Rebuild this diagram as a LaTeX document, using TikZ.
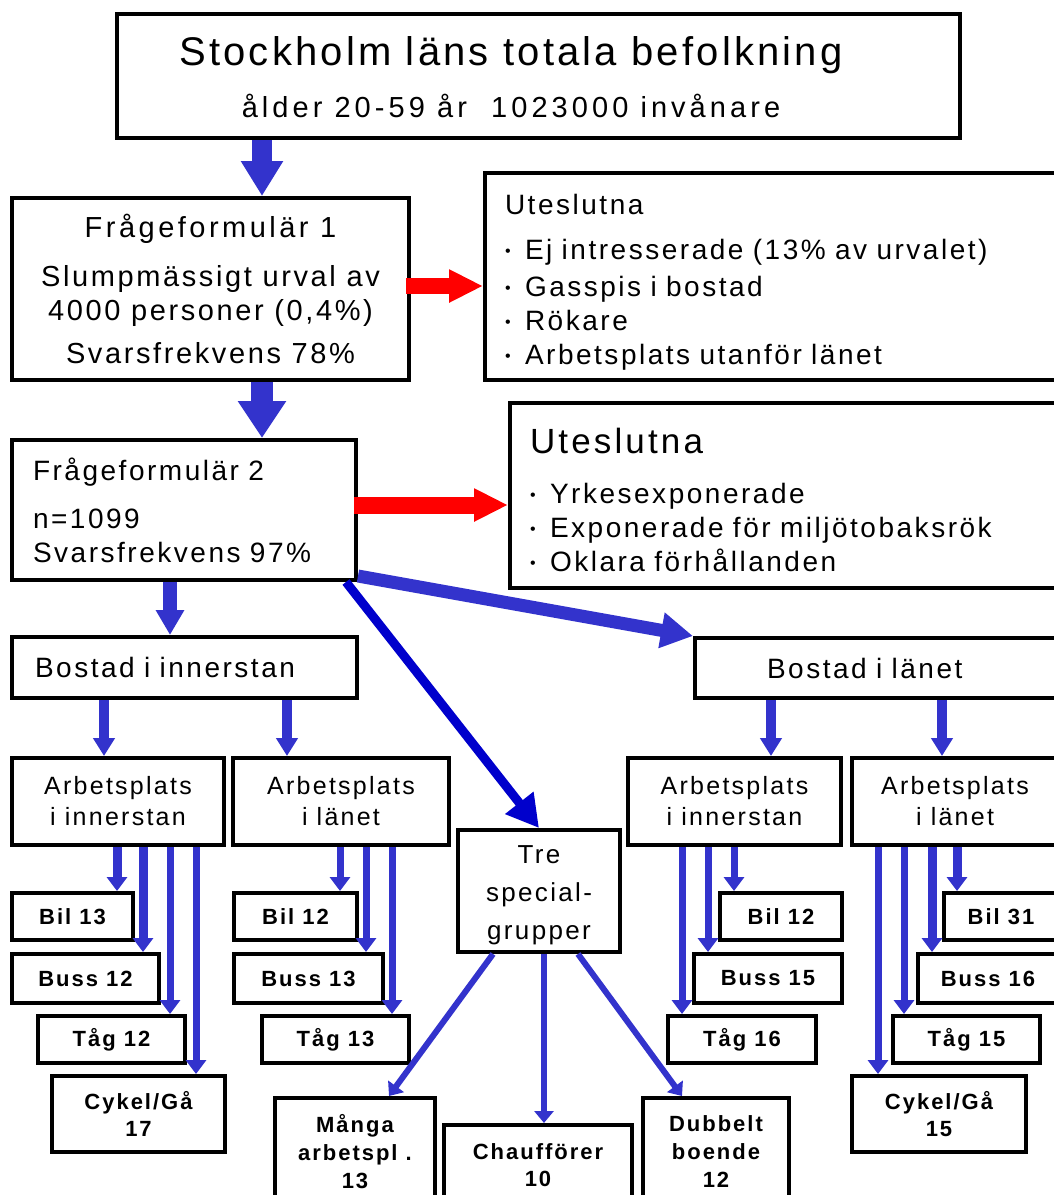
\documentclass[tikz,border=0pt]{standalone}
\usepackage{fontspec}
\setmainfont{Liberation Sans}[LetterSpace=9]
\usepackage{xcolor}
\usetikzlibrary{arrows.meta}
\definecolor{arrblue}{RGB}{51,51,204}
\definecolor{deepblue}{RGB}{0,0,204}
\definecolor{exred}{RGB}{255,0,0}
\tikzstyle{box} = [rectangle, sharp corners, draw, line width=2pt, inner sep=0pt, align=center]
\tikzstyle{leftbox} = [rectangle, sharp corners, draw, line width=2pt, inner ysep=0pt, align=left]
\tikzstyle{work} = [box, minimum height=43.5pt, font=\fontsize{12.5}{15.5}\selectfont]
\tikzstyle{mode} = [box, font=\fontsize{11}{13.5}\selectfont\bfseries]
\tikzstyle{flow} = [arrblue, line width=10pt, -{Triangle[length=17.5pt,width=20pt]}]
\tikzstyle{split} = [arrblue, line width=5pt, -{Triangle[length=9pt,width=10.5pt]}]
\tikzstyle{pick} = [arrblue, line width=3.5pt, -{Triangle[length=7pt,width=10pt]}]
\tikzstyle{drop} = [exred, line width=8pt, -{Triangle[length=17pt,width=15.5pt]}]
\tikzstyle{spec} = [arrblue, line width=3pt, -{Triangle[length=6pt,width=9.5pt]}]
\newcommand{\bul}{\makebox[10pt][l]{\raisebox{1.5pt}{\fontsize{8}{8}\selectfont •}}}

\begin{document}
\begin{tikzpicture}[x=0.5pt, y=-0.5pt]
\useasboundingbox (0,0) rectangle (1054,1195);
\clip (0,0) rectangle (1054,1195);

%Population
\node[box, minimum width=421.5pt, minimum height=62pt] at (538.5,76) (pop){};
\node[align=center, font=\fontsize{14.5}{26}\selectfont] at (511,77) (poptext)
  {{\fontsize{20}{26}\selectfont\addfontfeatures{LetterSpace=8}Stockholm läns totala befolkning}\\
   {\addfontfeatures{LetterSpace=14}ålder 20-59 år~~1023000 invånare}};

%Questionnaires
\node[box, minimum width=198.5pt, minimum height=91pt, font=\fontsize{14.5}{17}\selectfont] at (210.5,289) (form1)
  {{\addfontfeatures{LetterSpace=12}Frågeformulär 1}\\[7.5pt] Slumpmässigt urval av\\ 4000 personer (0,4\%)\\[4.5pt] Svarsfrekvens 78\%};
\node[leftbox, inner xsep=10.5pt, text width=151pt, minimum height=70pt, font=\fontsize{14}{17}\selectfont] at (184,510) (form2)
  {\rule{0pt}{12pt}Frågeformulär 2\\[7pt] n=1099\\ Svarsfrekvens 97\%};

%Excluded
\node[leftbox, inner xsep=10pt, text width=272.5pt, minimum height=103.5pt, font=\fontsize{14}{17}\selectfont] at (777.5,276.5) (excl1)
  {\rule{0pt}{16pt}Uteslutna\\[5.5pt] \bul Ej intresserade (13\% av urvalet)\\[1.5pt] \bul Gasspis i bostad\\ \bul Rökare\\ \bul Arbetsplats utanför länet};
\node[leftbox, inner xsep=10pt, text width=260pt, minimum height=92.5pt, font=\fontsize{14}{17}\selectfont] at (790,495.5) (excl2)
  {{\fontsize{17.5}{17}\selectfont\rule{0pt}{17pt}Uteslutna}\\[8pt] \bul Yrkesexponerade\\ \bul Exponerade för miljötobaksrök\\ \bul Oklara förhållanden};

%Home
\node[leftbox, inner xsep=11.5pt, text width=149.5pt, minimum height=30.5pt, font=\fontsize{14}{17}\selectfont] at (184.5,667.5) (homein){Bostad i innerstan};
\node[leftbox, inner xsep=36pt, text width=115.5pt, minimum height=30pt, font=\fontsize{14}{17}\selectfont] at (882.5,668) (homelan){Bostad i länet};

%Workplace
\node[work, minimum width=106pt] at (118,801.5) (workII){Arbetsplats\\ i innerstan};
\node[work, minimum width=108pt] at (341,801.5) (workIL){Arbetsplats\\ i länet};
\node[work, minimum width=106.5pt] at (734.5,801.5) (workLI){Arbetsplats\\ i innerstan};
\node[work, minimum width=103pt] at (955,801.5) (workLL){Arbetsplats\\ i länet};
\node[box, minimum width=81pt, minimum height=61pt, font=\fontsize{13}{19}\selectfont] at (539,891) (special){\rule{0pt}{13pt}Tre\\ special-\\ grupper};

%Modes
\node[mode, minimum width=60.5pt, minimum height=23.5pt] at (72.5,916.5) (bilII){Bil 13};
\node[mode, minimum width=73.5pt, minimum height=24.5pt] at (85.5,978.5) (bussII){Buss 12};
\node[mode, minimum width=73.5pt, minimum height=23.5pt] at (111.5,1039.5) (tagII){Tåg 12};
\node[mode, minimum width=86.5pt, minimum height=38pt] at (138.5,1114) (cykII){Cykel/Gå\\ 17};

\node[mode, minimum width=61.5pt, minimum height=23.5pt] at (295.5,916.5) (bilIL){Bil 12};
\node[mode, minimum width=74.5pt, minimum height=24.5pt] at (308.5,978.5) (bussIL){Buss 13};
\node[mode, minimum width=73.5pt, minimum height=23.5pt] at (335.5,1039.5) (tagIL){Tåg 13};

\node[mode, minimum width=80pt, minimum height=54pt, font=\fontsize{11}{14}\selectfont\bfseries] at (355,1152) (many){Många\\ arbetspl~.\\ 13};
\node[mode, minimum width=94pt, minimum height=40pt] at (538,1165) (driver){Chaufförer\\ 10};
\node[mode, minimum width=73pt, minimum height=54pt, font=\fontsize{11}{14}\selectfont\bfseries] at (716,1152) (double){Dubbelt\\ boende\\ 12};

\node[mode, minimum width=61pt, minimum height=23.5pt] at (781,916.5) (bilLI){Bil 12};
\node[mode, minimum width=74pt, minimum height=24.5pt] at (768,978.5) (bussLI){Buss 15};
\node[mode, minimum width=74pt, minimum height=23.5pt] at (742,1039.5) (tagLI){Tåg 16};

\node[mode, minimum width=57pt, minimum height=23.5pt] at (1001,916.5) (bilLL){Bil 31};
\node[mode, minimum width=70pt, minimum height=24.5pt] at (988,978.5) (bussLL){Buss 16};
\node[mode, minimum width=73.5pt, minimum height=23.5pt] at (966.5,1039.5) (tagLL){Tåg 15};
\node[mode, minimum width=87pt, minimum height=38pt] at (939,1114) (cykLL){Cykel/Gå\\ 15};

%Main flow
\draw[flow] (pop.south -| 262,0) -- (form1.north -| 262,0);
\draw[flow, line width=11pt, -{Triangle[length=18.5pt,width=23pt]}] (form1.south -| 262,0) -- (form2.north -| 262,0);
\draw[drop] ([xshift=-2.5pt,yshift=1.5pt]form1.east) -- ([yshift=1.5pt]excl1.west |- form1.east);
\draw[drop, line width=8.5pt] ([xshift=-2pt,yshift=2.5pt]form2.east) -- ([yshift=2.5pt]excl2.west |- form2.east);
\draw[flow, line width=7pt, -{Triangle[length=12.5pt,width=13.5pt]}] (form2.south -| 170,0) -- (homein.north -| 170,0);
\draw[flow, line width=6.5pt, -{Triangle[length=16pt,width=17pt]}] ([yshift=3pt]form2.south east) -- (homelan.north west);
\draw[deepblue, line width=4.5pt, -{Triangle[length=16pt,width=17pt]}] ([xshift=-6pt]form2.south east) -- (special.north);

%Home to work
\draw[split] (homein.south -| 104,0) -- (workII.north -| 104,0);
\draw[split] (homein.south -| 287,0) -- (workIL.north -| 287,0);
\draw[split] (homelan.south -| 771,0) -- (workLI.north -| 771,0);
\draw[split] (homelan.south -| 942,0) -- (workLL.north -| 942,0);

%Work to modes
\draw[pick, line width=4.5pt] (workII.south -| 117,0) -- (bilII.north -| 117,0);
\draw[pick, line width=4.5pt] (workII.south -| 143,0) -- (bussII.north -| 143,0);
\draw[pick] (workII.south -| 170,0) -- (tagII.north -| 170,0);
\draw[pick] (workII.south -| 196,0) -- (cykII.north -| 196,0);

\draw[pick] (workIL.south -| 340,0) -- (bilIL.north -| 340,0);
\draw[pick] (workIL.south -| 366,0) -- (bussIL.north -| 366,0);
\draw[pick] (workIL.south -| 392,0) -- (tagIL.north -| 392,0);

\draw[pick] (workLI.south -| 734,0) -- (bilLI.north -| 734,0);
\draw[pick] (workLI.south -| 708,0) -- (bussLI.north -| 708,0);
\draw[pick] (workLI.south -| 682,0) -- (tagLI.north -| 682,0);

\draw[pick, line width=4.5pt] (workLL.south -| 957,0) -- (bilLL.north -| 957,0);
\draw[pick, line width=4.5pt] (workLL.south -| 932,0) -- (bussLL.north -| 932,0);
\draw[pick] (workLL.south -| 904,0) -- (tagLL.north -| 904,0);
\draw[pick] (workLL.south -| 878,0) -- (cykLL.north -| 878,0);

%Special groups
\draw[spec] (special.south -| 493,0) -- (many.north -| 389,0);
\draw[spec] (special.south -| 544,0) -- (driver.north -| 544,0);
\draw[spec] (special.south -| 578,0) -- (double.north -| 682,0);
\end{tikzpicture}
\end{document}
